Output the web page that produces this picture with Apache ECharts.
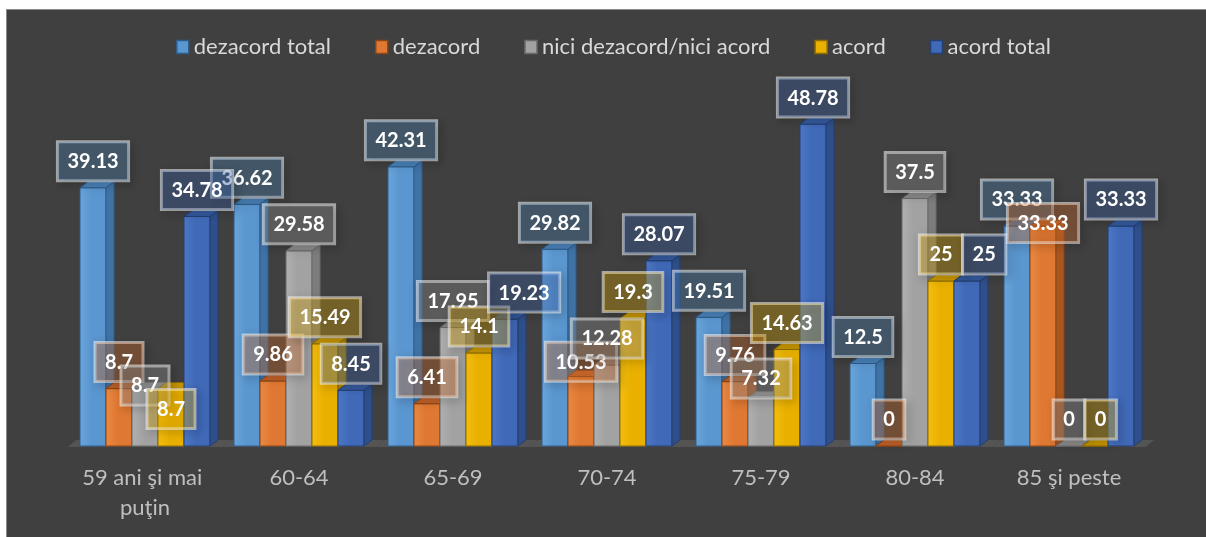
<!DOCTYPE html>
<html>
<head>
<meta charset="utf-8">
<script src="https://cdn.jsdelivr.net/npm/echarts@6/dist/echarts.min.js"></script>
<style>
  html, body { margin: 0; padding: 0; background: #ffffff; }
  #frame { position: absolute; left: 6px; top: 9px; width: 1200px; height: 528px;
           border-top: 1px solid #8a8a8a; border-left: 1px solid #8a8a8a; background: #404040; }
  #chart { width: 1200px; height: 528px; }
</style>
</head>
<body>
<div id="frame"><div id="chart"></div></div>
<script>
// Age groups along the x axis
const categories = ['59 ani şi mai puţin', '60-64', '65-69', '70-74', '75-79', '80-84', '85 şi peste'];

// Share of answers (%) per age group, one array per answer option
const dezacordTotal = [39.13, 36.62, 42.31, 29.82, 19.51, 12.5, 33.33];
const dezacord      = [8.7, 9.86, 6.41, 10.53, 9.76, 0, 33.33];
const niciNici      = [8.7, 29.58, 17.95, 12.28, 7.32, 37.5, 0];
const acord         = [8.7, 15.49, 14.1, 19.3, 14.63, 25, 0];
const acordTotal    = [34.78, 8.45, 19.23, 28.07, 48.78, 25, 33.33];

const seriesNames = ['dezacord total', 'dezacord', 'nici dezacord/nici acord', 'acord', 'acord total'];
const seriesValues = [dezacordTotal, dezacord, niciNici, acord, acordTotal];

// face colours for each answer option: front, side, top, edge, label box
const palette = [
  { front: '#5a96cf', light: '#6aa6dc', side: '#3f73a6', top: '#4a82b8', edge: '#2f5d8a', box: 'rgba(91,155,213,0.30)' },
  { front: '#df7832', light: '#ea8944', side: '#a9561f', top: '#c2622a', edge: '#8e4516', box: 'rgba(237,125,49,0.32)' },
  { front: '#a2a2a2', light: '#b0b0b0', side: '#7c7c7c', top: '#8c8c8c', edge: '#6a6a6a', box: 'rgba(165,165,165,0.32)' },
  { front: '#e9b000', light: '#f4bf10', side: '#b08600', top: '#c99800', edge: '#8f6d00', box: 'rgba(255,192,0,0.30)' },
  { front: '#4069b8', light: '#4d78c6', side: '#2f4f8c', top: '#355a9f', edge: '#253f70', box: 'rgba(68,114,196,0.30)' }
];

const DX = 8, DY = 6;
const LABEL_FONT = 'bold 20px Lato, "Open Sans", sans-serif';
const PAD_X = 10, BOX_H = 39;

// text width measurement for the value boxes
const measureCtx = document.createElement('canvas').getContext('2d');
measureCtx.font = LABEL_FONT;
function boxWidth(txt) { return measureCtx.measureText(txt).width + 2 * PAD_X; }

function barGeometry(api, cat, idx, val) {
  const base = api.coord([cat, 0]);
  const top = api.coord([cat, val]);
  const barW = api.size([1, 0])[0] * 26 / 154;
  const x0 = base[0] - barW * 2.5 + idx * barW;
  return { x0: x0, barW: barW, yT: top[1], yB: base[1] };
}

// value boxes of one age group, nudged apart where they sit on top of each other
const layout = {};
function layoutCategory(api, cat) {
  const boxes = seriesValues.map((vals, idx) => {
    const val = vals[cat];
    const g = barGeometry(api, cat, idx, val);
    const w = boxWidth(String(val));
    return { x: g.x0 + g.barW / 2 - w / 2, y: g.yT - DY - 1 - BOX_H, w: w, h: BOX_H, val: val };
  });
  for (let i = 1; i < boxes.length; i++) {
    for (let j = 0; j < i; j++) {
      const a = boxes[i], o = boxes[j];
      const hov = Math.min(a.x + a.w, o.x + o.w) - Math.max(a.x, o.x);
      const vov = Math.min(a.y + a.h, o.y + o.h) - Math.max(a.y, o.y);
      if (hov <= 0.5 || vov <= 0.36 * BOX_H) continue;
      if (hov <= 20) {
        a.x = o.x + o.w;                     // slight side overlap: move aside
      } else if (a.val > o.val) {
        o.y = a.y + 0.6 * BOX_H;             // lower bar's box goes underneath
      } else {
        a.y = o.y + 0.6 * BOX_H;
      }
    }
  }
  layout[cat] = boxes;
}

function barRenderer(idx) {
  const c = palette[idx];
  return function (params, api) {
    const cat = api.value(0), val = api.value(1);
    if (idx === 0) layoutCategory(api, cat);
    const g = barGeometry(api, cat, idx, val);
    const x0 = g.x0, barW = g.barW, yT = g.yT, yB = g.yB;
    const box = layout[cat][idx];
    return {
      type: 'group',
      children: [
        {
          type: 'rect', z2: 10 + idx,
          shape: { x: x0, y: yT, width: barW, height: yB - yT },
          style: {
            fill: new echarts.graphic.LinearGradient(0, 0, 1, 0, [
              { offset: 0, color: c.light }, { offset: 0.45, color: c.front }, { offset: 1, color: c.front }
            ]),
            stroke: c.edge, lineWidth: 1
          }
        },
        {
          type: 'polygon', z2: 10 + idx,
          shape: { points: [[x0 + barW, yT], [x0 + barW + DX, yT - DY], [x0 + barW + DX, yB - DY], [x0 + barW, yB]] },
          style: { fill: c.side, stroke: c.edge, lineWidth: 1 }
        },
        {
          type: 'polygon', z2: 10 + idx,
          shape: { points: [[x0, yT], [x0 + DX, yT - DY], [x0 + barW + DX, yT - DY], [x0 + barW, yT]] },
          style: { fill: c.top, stroke: c.edge, lineWidth: 1 }
        },
        {
          type: 'text', z2: 100 + idx,
          x: box.x + box.w / 2, y: box.y + box.h,
          style: {
            text: String(val),
            fill: '#ffffff',
            font: LABEL_FONT,
            align: 'center', verticalAlign: 'bottom',
            lineHeight: 22,
            padding: [9, PAD_X, 8, PAD_X],
            backgroundColor: c.box,
            borderColor: 'rgba(255,255,255,0.55)',
            borderWidth: 1.5,
            shadowColor: 'rgba(0,0,0,0.35)', shadowBlur: 8, shadowOffsetX: 3, shadowOffsetY: 3
          }
        }
      ]
    };
  };
}

// floor strip under each age group
function floorRenderer(params, api) {
  const cat = api.value(0);
  const base = api.coord([cat, 0]);
  const band = api.size([1, 0])[0];
  const xl = base[0] - band / 2, xr = base[0] + band / 2, y = base[1] + 1;
  return {
    type: 'polygon', z2: 0,
    shape: { points: [[xl, y], [xl + DX, y - DY - 1], [xr + DX, y - DY - 1], [xr, y]] },
    style: { fill: '#545454' }
  };
}

const series = [{
  type: 'custom', name: 'floor', silent: true,
  renderItem: floorRenderer,
  data: categories.map((_, i) => [i, 0])
}].concat(seriesNames.map((name, i) => ({
  type: 'custom',
  name: name,
  renderItem: barRenderer(i),
  itemStyle: { color: palette[i].front, borderColor: palette[i].edge },
  data: seriesValues[i].map((v, j) => [j, v])
})));

const chart = echarts.init(document.getElementById('chart'));
chart.setOption({
  backgroundColor: '#404040',
  animation: false,
  legend: {
    left: 169, top: 26, padding: 0,
    itemWidth: 12, itemHeight: 13, itemGap: 44,
    icon: 'rect',
    textStyle: { color: '#d9d9d9', fontSize: 22, fontFamily: 'Lato, "Open Sans", sans-serif' },
    data: seriesNames.map((n, i) => ({
      name: n,
      itemStyle: { color: palette[i].front, borderColor: palette[i].edge, borderWidth: 1.5 }
    }))
  },
  grid: { left: 61, right: 61, top: 40, bottom: 92 },
  xAxis: {
    type: 'category',
    data: categories,
    axisLine: { show: false },
    axisTick: { show: false },
    axisLabel: {
      color: '#bfbfbf', fontSize: 22, fontFamily: 'Lato, "Open Sans", sans-serif',
      margin: 17, lineHeight: 30, width: 140, overflow: 'break', interval: 0
    }
  },
  yAxis: { type: 'value', min: 0, max: 60, show: false, splitLine: { show: false } },
  series: series
});
</script>
</body>
</html>
